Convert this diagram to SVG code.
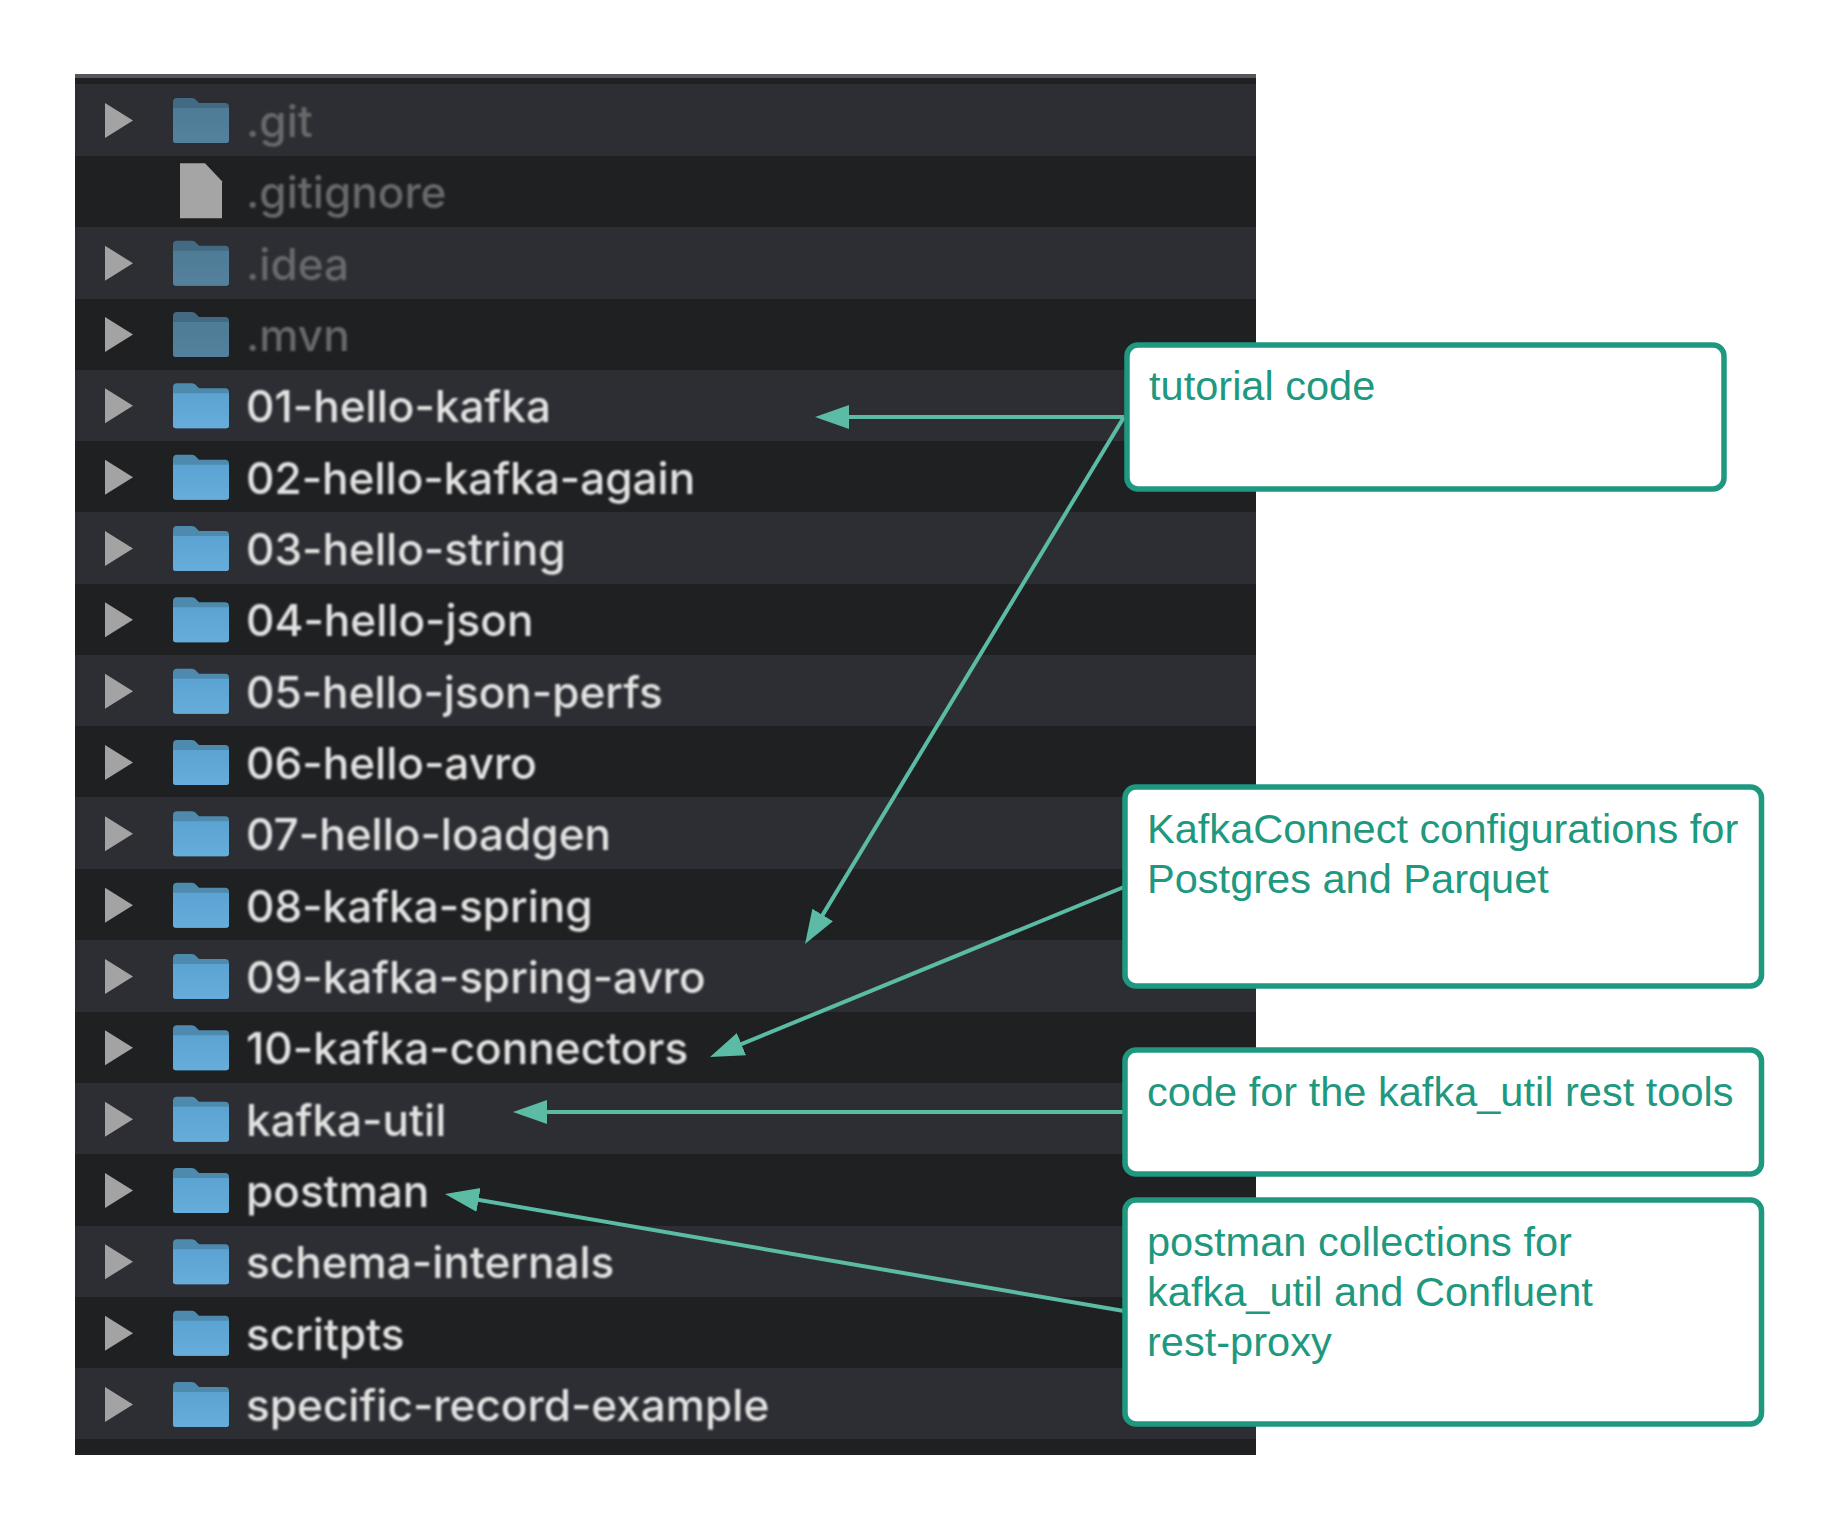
<svg xmlns="http://www.w3.org/2000/svg" width="1838" height="1530" viewBox="0 0 1838 1530">
<style>
.rl{fill:#2d2e33}.rd{fill:#1f2022}
.t{font-family:"Inter","Liberation Sans",sans-serif;font-size:44.1px;font-weight:500;filter:url(#soft)}
.b{fill:#e2e2e2}.d{fill:#68696b}
.tri{fill:#a3a3a3;filter:url(#soft2)}
.box{fill:#fff;stroke:#1f9880;stroke-width:5.5}
.lab{font-family:"Liberation Sans",Arial,sans-serif;font-size:41.55px;fill:#1f9880}
.arr{fill:none;stroke:#5bbba5;stroke-width:4}
</style>
<defs>
<filter id="soft" x="-5%" y="-20%" width="110%" height="140%"><feGaussianBlur stdDeviation="0.8"/></filter>
<filter id="soft2" x="-10%" y="-10%" width="120%" height="120%"><feGaussianBlur stdDeviation="0.5"/></filter>
<linearGradient id="fb" x1="0" y1="0" x2="0" y2="1"><stop offset="0" stop-color="#5ba3d2"/><stop offset="1" stop-color="#66addb"/></linearGradient>
<linearGradient id="fd" x1="0" y1="0" x2="0" y2="1"><stop offset="0" stop-color="#4f7b96"/><stop offset="1" stop-color="#53819d"/></linearGradient>
<marker id="ah" markerUnits="userSpaceOnUse" markerWidth="36" markerHeight="26" refX="14" refY="13" orient="auto"><path d="M0 1 L34 13 L0 25Z" fill="#5bbba5"/></marker>
<g id="fb1" filter="url(#soft2)"><path d="M173 58 V18 Q173 14 177 14 H192 Q195 14 197 17 L199 19 H225 Q229 19 229 23 V56 Q229 59 226 59 H176 Q173 59 173 56Z" fill="#4d8aae"/><path d="M173 24 H229 V56 Q229 59 226 59 H176 Q173 59 173 56Z" fill="url(#fb)"/></g>
<g id="fd1" filter="url(#soft2)"><path d="M173 58 V18 Q173 14 177 14 H192 Q195 14 197 17 L199 19 H225 Q229 19 229 23 V56 Q229 59 226 59 H176 Q173 59 173 56Z" fill="#436a82"/><path d="M173 24 H229 V56 Q229 59 226 59 H176 Q173 59 173 56Z" fill="url(#fd)"/></g>
<path id="tr" class="tri" d="M105 19 L133 36.5 L105 54Z"/>
</defs>
<rect width="1838" height="1530" fill="#fff"/>
<g id="panel">
<rect x="75" y="74" width="1181" height="1381" fill="#1f2022"/>
<rect x="75" y="74" width="1181" height="4" fill="#55565a"/>
<rect class="rl" x="75" y="84" width="1181" height="72"/>
<rect class="rl" x="75" y="227" width="1181" height="72"/>
<rect class="rl" x="75" y="370" width="1181" height="71"/>
<rect class="rl" x="75" y="512" width="1181" height="72"/>
<rect class="rl" x="75" y="655" width="1181" height="71"/>
<rect class="rl" x="75" y="797" width="1181" height="72"/>
<rect class="rl" x="75" y="940" width="1181" height="72"/>
<rect class="rl" x="75" y="1083" width="1181" height="71"/>
<rect class="rl" x="75" y="1226" width="1181" height="71"/>
<rect class="rl" x="75" y="1368" width="1181" height="71"/>
</g>
<g id="row-git" transform="translate(0,84)"><use href="#tr"/><use href="#fd1"/><text class="t d" x="246" y="53">.git</text></g>
<g id="row-gitignore" transform="translate(0,155.3)"><path d="M180 8 H205 L222 26 V63 H180Z" fill="#a5a5a5" filter="url(#soft2)"/><text class="t d" x="246" y="53">.gitignore</text></g>
<g id="row-idea" transform="translate(0,226.7)"><use href="#tr"/><use href="#fd1"/><text class="t d" x="246" y="53">.idea</text></g>
<g id="row-mvn" transform="translate(0,298)"><use href="#tr"/><use href="#fd1"/><text class="t d" x="246" y="53">.mvn</text></g>
<g id="row-01" transform="translate(0,369.3)"><use href="#tr"/><use href="#fb1"/><text class="t b" x="246" y="53">01-hello-kafka</text></g>
<g id="row-02" transform="translate(0,440.7)"><use href="#tr"/><use href="#fb1"/><text class="t b" x="246" y="53">02-hello-kafka-again</text></g>
<g id="row-03" transform="translate(0,512)"><use href="#tr"/><use href="#fb1"/><text class="t b" x="246" y="53">03-hello-string</text></g>
<g id="row-04" transform="translate(0,583.3)"><use href="#tr"/><use href="#fb1"/><text class="t b" x="246" y="53">04-hello-json</text></g>
<g id="row-05" transform="translate(0,654.7)"><use href="#tr"/><use href="#fb1"/><text class="t b" x="246" y="53">05-hello-json-perfs</text></g>
<g id="row-06" transform="translate(0,726)"><use href="#tr"/><use href="#fb1"/><text class="t b" x="246" y="53">06-hello-avro</text></g>
<g id="row-07" transform="translate(0,797.3)"><use href="#tr"/><use href="#fb1"/><text class="t b" x="246" y="53">07-hello-loadgen</text></g>
<g id="row-08" transform="translate(0,868.7)"><use href="#tr"/><use href="#fb1"/><text class="t b" x="246" y="53">08-kafka-spring</text></g>
<g id="row-09" transform="translate(0,940)"><use href="#tr"/><use href="#fb1"/><text class="t b" x="246" y="53">09-kafka-spring-avro</text></g>
<g id="row-10" transform="translate(0,1011.3)"><use href="#tr"/><use href="#fb1"/><text class="t b" x="246" y="53">10-kafka-connectors</text></g>
<g id="row-kafka-util" transform="translate(0,1082.7)"><use href="#tr"/><use href="#fb1"/><text class="t b" x="246" y="53">kafka-util</text></g>
<g id="row-postman" transform="translate(0,1154)"><use href="#tr"/><use href="#fb1"/><text class="t b" x="246" y="53">postman</text></g>
<g id="row-schema" transform="translate(0,1225.3)"><use href="#tr"/><use href="#fb1"/><text class="t b" x="246" y="53">schema-internals</text></g>
<g id="row-scritpts" transform="translate(0,1296.7)"><use href="#tr"/><use href="#fb1"/><text class="t b" x="246" y="53">scritpts</text></g>
<g id="row-specific" transform="translate(0,1368)"><use href="#tr"/><use href="#fb1"/><text class="t b" x="246" y="53">specific-record-example</text></g>
<g id="connectors">
<line class="arr" x1="1124" y1="417" x2="835" y2="417" marker-end="url(#ah)"/>
<line class="arr" x1="1124" y1="417" x2="815.4" y2="926.9" marker-end="url(#ah)"/>
<line class="arr" x1="1124" y1="887" x2="728.5" y2="1049.4" marker-end="url(#ah)"/>
<line class="arr" x1="1124" y1="1112" x2="533" y2="1112" marker-end="url(#ah)"/>
<line class="arr" x1="1124" y1="1311" x2="464.7" y2="1197.5" marker-end="url(#ah)"/>
</g>
<g id="box-tutorial"><rect class="box" x="1127" y="345" width="597" height="144" rx="11"/><text class="lab" x="1149" y="400">tutorial code</text></g>
<g id="box-connect"><rect class="box" x="1125" y="787" width="636.5" height="199" rx="11"/><text class="lab" x="1147" y="843">KafkaConnect configurations for</text><text class="lab" x="1147" y="893">Postgres and Parquet</text></g>
<g id="box-util"><rect class="box" x="1125" y="1050" width="636.5" height="124" rx="11"/><text class="lab" x="1147" y="1105.5">code for the kafka_util rest tools</text></g>
<g id="box-postman"><rect class="box" x="1125" y="1200" width="636.5" height="224" rx="11"/><text class="lab" x="1147" y="1255.5">postman collections for</text><text class="lab" x="1147" y="1305.5">kafka_util and Confluent</text><text class="lab" x="1147" y="1355.5">rest-proxy</text></g>
</svg>
